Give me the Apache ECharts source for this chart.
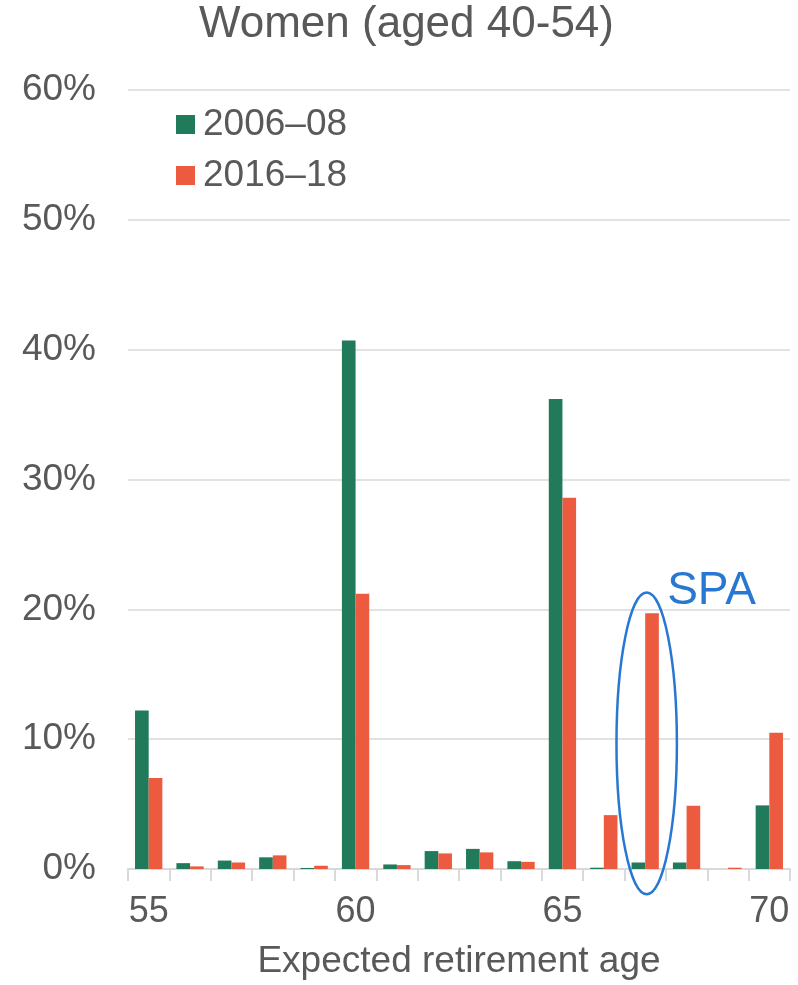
<!DOCTYPE html>
<html>
<head>
<meta charset="utf-8">
<title>Women (aged 40-54)</title>
<script src="https://cdn.jsdelivr.net/npm/echarts@6/dist/echarts.min.js"></script>
<style>
  html, body { margin: 0; padding: 0; background: #fff; }
  #main { width: 798px; height: 985px; }
</style>
</head>
<body>
<div id="main"></div>
<script>
// data (percent of respondents)
var ages = ['55','56','57','58','59','60','61','62','63','64','65','66','67','68','69','70'];
var women0608 = [12.2, 0.45, 0.65, 0.9, 0.08, 40.7, 0.35, 1.38, 1.55, 0.6, 36.2, 0.1, 0.5, 0.5, 0, 4.9];
var women1618 = [7.0, 0.2, 0.5, 1.05, 0.25, 21.2, 0.3, 1.2, 1.28, 0.55, 28.6, 4.15, 19.7, 4.87, 0.1, 10.5];
var shownAges = ['55', '60', '65', '70'];

var grey = '#595959';
var lineGrey = '#d9d9d9';
var blue = '#2878D2';
var font = 'Liberation Sans, Arial, sans-serif';

var chart = echarts.init(document.getElementById('main'), null, { renderer: 'canvas' });

var option = {
    animation: false,
    textStyle: { fontFamily: font },
    title: {
        text: 'Women (aged 40-54)',
        left: 194,
        top: -2,
        textStyle: { color: grey, fontSize: 44, fontWeight: 'normal', fontFamily: font }
    },
    legend: {
        orient: 'vertical',
        left: 171,
        top: 101,
        itemWidth: 19,
        itemHeight: 19,
        itemGap: 14,
        icon: 'rect',
        textStyle: { color: grey, fontSize: 37, fontFamily: font, padding: [0, 0, 0, 3] },
        data: ['2006–08', '2016–18']
    },
    grid: { left: 128, right: 8, top: 90, bottom: 115 },
    xAxis: {
        type: 'category',
        data: ages,
        name: 'Expected retirement age',
        nameLocation: 'middle',
        nameGap: 74,
        nameTextStyle: { color: grey, fontSize: 37, fontFamily: font },
        axisLine: { lineStyle: { color: lineGrey, width: 2 } },
        axisTick: { show: true, length: 12, lineStyle: { color: lineGrey, width: 2 } },
        axisLabel: {
            color: grey,
            fontSize: 36,
            margin: 25,
            interval: 0,
            formatter: function (v) { return shownAges.indexOf(v) >= 0 ? v : ''; }
        }
    },
    yAxis: {
        type: 'value',
        min: 0,
        max: 60,
        interval: 10,
        axisLine: { show: false },
        axisTick: { show: false },
        splitLine: { lineStyle: { color: lineGrey, width: 1.5 } },
        axisLabel: { color: grey, fontSize: 37, margin: 32, formatter: '{value}%' }
    },
    series: [
        {
            name: '2006–08',
            type: 'bar',
            data: women0608,
            barGap: '0%',
            barCategoryGap: '34%',
            itemStyle: { color: '#217A5A' }
        },
        {
            name: '2016–18',
            type: 'bar',
            data: women1618,
            barGap: '0%',
            barCategoryGap: '34%',
            itemStyle: { color: '#EC5B40' }
        }
    ]
};

chart.setOption(option);

// SPA ellipse around age 67, placed through the chart's own scales
var top67 = chart.convertToPixel({ gridIndex: 0 }, ['67', 21.3]);
var bot67 = chart.convertToPixel({ gridIndex: 0 }, ['67', -1.95]);
var c66 = chart.convertToPixel({ gridIndex: 0 }, ['66', 0]);
var catW = top67[0] - c66[0];
chart.setOption({
    graphic: [
        {
            type: 'ellipse',
            shape: {
                cx: top67[0] + 1.5,
                cy: (top67[1] + bot67[1]) / 2,
                rx: catW * 0.73,
                ry: (bot67[1] - top67[1]) / 2
            },
            style: { fill: 'none', stroke: blue, lineWidth: 2.5 },
            z: 100
        },
        {
            type: 'text',
            x: top67[0] + 22,
            y: top67[1] + 22,
            style: {
                text: 'SPA',
                fill: blue,
                fontSize: 46,
                fontFamily: font,
                textVerticalAlign: 'bottom'
            },
            z: 100
        }
    ]
});
window.addEventListener('resize', chart.resize);
</script>
</body>
</html>
